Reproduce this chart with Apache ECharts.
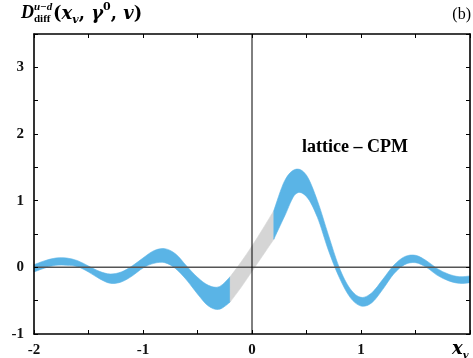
<!DOCTYPE html>
<html><head><meta charset="utf-8">
<script src="https://cdn.jsdelivr.net/npm/echarts@6/dist/echarts.min.js"></script>
<style>html,body{margin:0;padding:0;background:#fff}#c{width:473px;height:358px}</style>
</head><body><div id="c"></div>
<script>
const xs = [-2.0,-1.9,-1.8,-1.7,-1.6,-1.5,-1.4,-1.3,-1.2,-1.1,-1.0,-0.9,-0.8,-0.7,-0.6,-0.5,-0.4,-0.3,-0.2,-0.1,
  0.0,0.1,0.2,0.3,0.4,0.5,0.6,0.7,0.8,0.9,1.0,1.1,1.2,1.3,1.4,1.5,1.6,1.7,1.8,1.9,2.0];
const upper = [0.04,0.10,0.14,0.14,0.10,0.02,-0.06,-0.10,-0.07,0.02,0.14,0.25,0.28,0.20,0.02,-0.15,-0.27,-0.29,-0.14,0.08,
  0.32,0.58,0.85,1.30,1.47,1.38,1.00,0.49,0.00,-0.32,-0.45,-0.38,-0.18,0.03,0.16,0.18,0.10,-0.02,-0.10,-0.14,-0.13];
const lower = [-0.07,-0.01,0.03,0.03,0.01,-0.07,-0.17,-0.24,-0.22,-0.13,-0.01,0.06,0.07,-0.02,-0.19,-0.40,-0.58,-0.63,-0.52,-0.30,
  -0.06,0.18,0.42,0.77,1.10,1.06,0.75,0.26,-0.15,-0.45,-0.58,-0.53,-0.33,-0.10,0.04,0.07,0.00,-0.12,-0.20,-0.24,-0.23];
const grayRange = [-0.2, 0.2];
const xRange = [-2, 2];
const yRange = [-1, 3.5];

const blue = '#5ab4e6', gray = '#d5d5d5';
const segments = [
  {from: xRange[0], to: grayRange[0], color: blue},
  {from: grayRange[0], to: grayRange[1], color: gray},
  {from: grayRange[1], to: xRange[1], color: blue}
];
segments.forEach(s => {
  s.idx = xs.map((x, i) => i).filter(i => xs[i] >= s.from - 1e-9 && xs[i] <= s.to + 1e-9);
});

function curvePath(pts, start) {
  let d = (start ? 'M' : 'L') + pts[0][0] + ',' + pts[0][1];
  for (let i = 0; i < pts.length - 1; i++) {
    const p0 = pts[Math.max(i - 1, 0)], p1 = pts[i], p2 = pts[i + 1], p3 = pts[Math.min(i + 2, pts.length - 1)];
    const c1 = [p1[0] + (p2[0] - p0[0]) / 6, p1[1] + (p2[1] - p0[1]) / 6];
    const c2 = [p2[0] - (p3[0] - p1[0]) / 6, p2[1] - (p3[1] - p1[1]) / 6];
    d += 'C' + c1[0] + ',' + c1[1] + ',' + c2[0] + ',' + c2[1] + ',' + p2[0] + ',' + p2[1];
  }
  return d;
}

const labFont = {fontFamily: 'Liberation Serif', fontWeight: 'bold', fontSize: 15, color: '#111'};
const intOnly = v => (Math.abs(v - Math.round(v)) < 1e-9 && v < xRange[1] ? String(Math.round(v)) : '');
const intOnlyY = v => (Math.abs(v - Math.round(v)) < 1e-9 ? String(Math.round(v)) : '');
const serif = '"DejaVu Serif"';
const lib = '"Liberation Serif"';

const chart = echarts.init(document.getElementById('c'));
chart.setOption({
  animation: false,
  grid: {left: 34, right: 3, top: 34, bottom: 23},
  xAxis: [
    {type: 'value', min: xRange[0], max: xRange[1], interval: 0.5, z: 10,
     axisLine: {show: true, onZero: false, lineStyle: {color: '#000', width: 1.6}},
     axisTick: {show: true, inside: true, length: 4, lineStyle: {color: '#000', width: 1}},
     axisLabel: Object.assign({margin: 9, formatter: intOnly}, labFont),
     splitLine: {show: false}},
    {type: 'value', position: 'top', min: xRange[0], max: xRange[1], interval: 0.5, z: 10,
     axisLine: {show: true, onZero: false, lineStyle: {color: '#000', width: 1.6}},
     axisTick: {show: true, inside: true, length: 4, lineStyle: {color: '#000', width: 1}},
     axisLabel: {show: false}, splitLine: {show: false}}
  ],
  yAxis: [
    {type: 'value', min: yRange[0], max: yRange[1], interval: 0.5, z: 10,
     axisLine: {show: true, onZero: false, lineStyle: {color: '#000', width: 1.6}},
     axisTick: {show: true, inside: true, length: 4, lineStyle: {color: '#000', width: 1}},
     axisLabel: Object.assign({margin: 10, formatter: intOnlyY}, labFont),
     splitLine: {show: false}},
    {type: 'value', position: 'right', min: yRange[0], max: yRange[1], interval: 0.5, z: 10,
     axisLine: {show: true, onZero: false, lineStyle: {color: '#000', width: 1.6}},
     axisTick: {show: true, inside: true, length: 4, lineStyle: {color: '#000', width: 1}},
     axisLabel: {show: false}, splitLine: {show: false}}
  ],
  series: [
    {type: 'custom', z: 2, data: segments.map((s, k) => [s.from, s.to, k]),
     encode: {x: [0, 1]},
     renderItem: (params, api) => {
       const s = segments[params.dataIndex];
       const up = s.idx.map(i => api.coord([xs[i], upper[i]]));
       const lo = s.idx.map(i => api.coord([xs[i], lower[i]])).reverse();
       const d = curvePath(up, true) + curvePath(lo, false) + 'Z';
       return {type: 'path', shape: {pathData: d}, style: {fill: s.color, stroke: s.color, lineWidth: 0.6}};
     }},
    {type: 'line', z: 3, symbol: 'none', silent: true,
     data: [[xRange[0], 0], [xRange[1], 0]], lineStyle: {color: '#555', width: 1.5}},
    {type: 'line', z: 3, symbol: 'none', silent: true,
     data: [[0, yRange[0]], [0, yRange[1]]], lineStyle: {color: '#000', width: 1}}
  ],
  graphic: [
    {type: 'text', x: 21, y: 13, style: {text: 'D', font: 'italic bold 18px ' + lib, verticalAlign: 'middle', fill: '#000'}},
    {type: 'text', x: 34, y: 7, style: {text: 'u\u2212d', font: 'italic bold 11px ' + lib, verticalAlign: 'middle', fill: '#000'}},
    {type: 'text', x: 34, y: 19, style: {text: 'diff', font: 'bold 11px ' + lib, verticalAlign: 'middle', fill: '#000'}},
    {type: 'text', x: 53, y: 2, style: {
      text: '{p|(}{i|x}{s|v}{p|, }{i|\u03b3}{u|0}{p|, }{i|v}{p|)}',
      fill: '#000',
      rich: {
        p: {fontFamily: serif, fontWeight: 'bold', fontSize: 18, lineHeight: 24},
        i: {fontFamily: serif, fontWeight: 'bold', fontStyle: 'italic', fontSize: 18, lineHeight: 24},
        s: {fontFamily: serif, fontWeight: 'bold', fontStyle: 'italic', fontSize: 11, verticalAlign: 'bottom', lineHeight: 14},
        u: {fontFamily: serif, fontWeight: 'bold', fontSize: 11, verticalAlign: 'top', lineHeight: 14}
      }}},
    {type: 'text', x: 471, y: 15, style: {text: '(b)', font: '16px ' + lib, align: 'right', verticalAlign: 'middle', fill: '#000'}},
    {type: 'text', x: 302, y: 147, style: {text: 'lattice \u2013 CPM', font: 'bold 18px ' + lib, verticalAlign: 'middle', fill: '#000'}},
    {type: 'text', x: 452, y: 338, style: {
      text: '{i|x}{s|v}', fill: '#000',
      rich: {
        i: {fontFamily: serif, fontWeight: 'bold', fontStyle: 'italic', fontSize: 18, lineHeight: 22},
        s: {fontFamily: serif, fontWeight: 'bold', fontStyle: 'italic', fontSize: 10, verticalAlign: 'bottom', lineHeight: 12}
      }}}
  ]
});
</script></body></html>
